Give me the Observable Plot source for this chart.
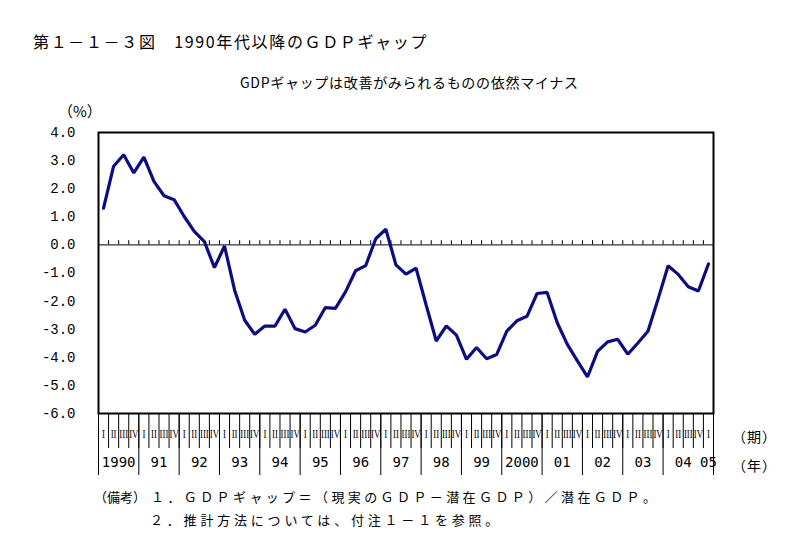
<!DOCTYPE html>
<html>
<head>
<meta charset="utf-8">
<script src="https://cdn.jsdelivr.net/npm/d3@7"></script>
<script src="https://cdn.jsdelivr.net/npm/@observablehq/plot@0.6"></script>
<style>
  html, body { margin: 0; padding: 0; background: #fff; }
  #wrap { position: relative; width: 800px; height: 542px; overflow: hidden; font-family: "Noto Sans CJK JP", sans-serif; color: #000; }
  .t { position: absolute; white-space: nowrap; line-height: 1; }
  #chart { position: absolute; left: 0; top: 100px; }
</style>
</head>
<body>
<div id="wrap">
  <div class="t" id="title" style="left:33px; top:33px; font-size:16px; letter-spacing:1.65px;">第１－１－３図　1990年代以降のＧＤＰギャップ</div>
  <div class="t" id="subtitle" style="left:240px; top:75px; font-size:14px; letter-spacing:0.7px;">GDPギャップは改善がみられるものの依然マイナス</div>
  <div class="t" style="left:58px; top:103px; font-size:15px;">（%）</div>
  <div class="t" style="left:732px; top:429px; font-size:14px; letter-spacing:1px;">（期）</div>
  <div class="t" style="left:732px; top:458px; font-size:14px; letter-spacing:1px;">（年）</div>
  <div class="t" style="left:94px; top:490px; font-size:13px;">（備考）<span style="letter-spacing:3.4px; margin-left:5px;">１．ＧＤＰギャップ＝（現実のＧＤＰ－潜在ＧＤＰ）／潜在ＧＤＰ。</span></div>
  <div class="t" style="left:150px; top:513px; font-size:13px; letter-spacing:3.8px;">２．推計方法については、付注１－１を参照。</div>
  <div id="chart"></div>
</div>
<script>
// Quarterly GDP gap (%), 1990 Q1 – 2005 Q1
const gdpGap = [
  1.31, 2.80, 3.21, 2.56,      // 1990
  3.12, 2.26, 1.75, 1.61,      // 1991
  1.01, 0.48, 0.12, -0.81,     // 1992
  -0.04, -1.61, -2.68, -3.18,  // 1993
  -2.89, -2.89, -2.29, -2.98,  // 1994
  -3.10, -2.86, -2.23, -2.26,  // 1995
  -1.67, -0.92, -0.74, 0.22,   // 1996
  0.56, -0.71, -1.04, -0.83,   // 1997
  -2.14, -3.42, -2.88, -3.21,  // 1998
  -4.07, -3.65, -4.05, -3.90,  // 1999
  -3.07, -2.70, -2.54, -1.73,  // 2000
  -1.69, -2.77, -3.54, -4.13,  // 2001
  -4.70, -3.79, -3.45, -3.36,  // 2002
  -3.89, -3.49, -3.07, -1.93,  // 2003
  -0.74, -1.05, -1.49, -1.64,  // 2004
  -0.68                        // 2005
];
const quarterLabels = ["I", "II", "III", "IV"];
const yearLabels = ["1990", "91", "92", "93", "94", "95", "96", "97", "98", "99", "2000", "01", "02", "03", "04", "05"];
const yTicks = [-6, -5, -4, -3, -2, -1, 0, 1, 2, 3, 4];

const data = gdpGap.map((v, i) => ({i, v, q: quarterLabels[i % 4]}));
const n = data.length;
const quarterBounds = d3.range(0, n + 1).map(k => k - 0.5);
const yearBounds = yearLabels.slice(0, -1).map((_, k) => k * 4 - 0.5).concat([n - 0.5]);
const years = yearLabels.map((label, k) => ({
  label,
  x: k < yearLabels.length - 1 ? k * 4 + 1.5 : k * 4
}));

const chart = Plot.plot({
  width: 800,
  height: 390,
  marginLeft: 98,
  marginRight: 87,
  marginTop: 32,
  marginBottom: 77,
  style: {background: "transparent", overflow: "visible"},
  x: {domain: [-0.5, n - 0.5], axis: null},
  y: {domain: [-6, 4]},
  marks: [
    Plot.axisY({
      ticks: yTicks,
      tickFormat: d => d.toFixed(1),
      tickSize: 0,
      tickPadding: 23,
      fontSize: 14,
      fontFamily: "Liberation Mono, monospace",
      label: null
    }),
    Plot.axisX(quarterBounds, {tickSize: 35, tickFormat: () => "", label: null, strokeWidth: 1}),
    Plot.axisX(yearBounds, {tickSize: 62, tickFormat: () => "", label: null, strokeWidth: 1}),
    Plot.ruleY([0], {stroke: "black", strokeWidth: 1}),
    Plot.ruleX(quarterBounds.slice(1, -1), {x: d => d, y1: 0, y2: 0.15, stroke: "black"}),
    Plot.line(data, {x: "i", y: "v", stroke: "#0d0d80", strokeWidth: 3.2, strokeLinejoin: "miter"}),
    Plot.frame({stroke: "black", strokeWidth: 2}),
    Plot.text(data, {x: "i", text: "q", frameAnchor: "bottom", dy: 24, fontSize: 13, fontFamily: "Liberation Serif, serif"}),
    Plot.text(years, {x: "x", text: "label", frameAnchor: "bottom", dy: 53, fontSize: 14, fontFamily: "DejaVu Sans Mono, monospace"})
  ]
});
document.getElementById("chart").appendChild(chart);

// squeeze the quarter numerals horizontally into their narrow bands, as in the original
chart.querySelectorAll("text").forEach(t => {
  if (quarterLabels.includes(t.textContent)) {
    const tr = t.getAttribute("transform") || "";
    const x = +(t.getAttribute("x") || 0), y = +(t.getAttribute("y") || 0);
    t.removeAttribute("x");
    t.removeAttribute("y");
    t.setAttribute("transform", `${tr} translate(${x},${y}) scale(0.68,1)`);
  }
});
</script>
</body>
</html>
